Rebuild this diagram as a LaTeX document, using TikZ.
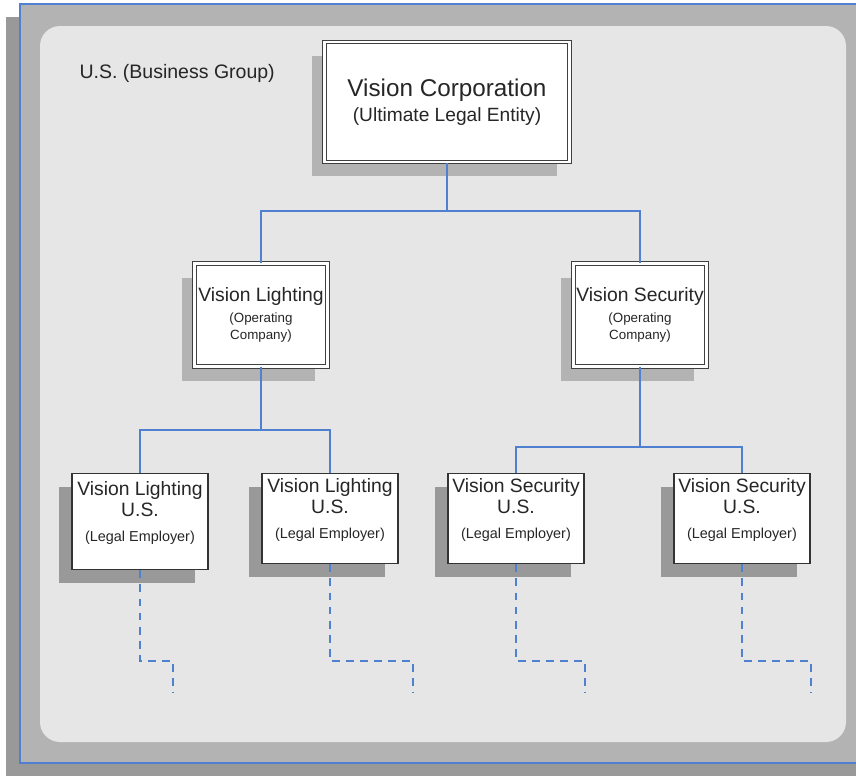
\documentclass[tikz,border=0pt]{standalone}
\usepackage{fontspec}
\setmainfont{Liberation Sans}
\usetikzlibrary{arrows.meta, positioning, calc, shadows, backgrounds}
\definecolor{linkblue}{RGB}{79,129,208}
\definecolor{framegray}{RGB}{179,179,179}
\definecolor{darkgray}{RGB}{153,153,153}
\definecolor{panelgray}{RGB}{230,230,230}
\newcommand{\corpfont}{\fontsize{13.8}{16}\selectfont}
\newcommand{\unitfont}{\fontsize{11}{12.5}\selectfont}
\newcommand{\rolefont}{\fontsize{7.6}{9.7}\selectfont}
\newcommand{\empfont}{\fontsize{8.2}{10}\selectfont}

\begin{document}
\begin{tikzpicture}[
      txt/.style={text=black!85, align=center, inner sep=1pt},
      corpbox/.style={txt, draw=black!75, double=white, double distance=1.6pt, line width=0.6pt, fill=white,
        minimum width=4.9cm, minimum height=2.4cm,
        drop shadow={shadow xshift=-0.26cm, shadow yshift=-0.28cm, fill=framegray, opacity=1}},
      opbox/.style={corpbox, font=\rolefont, minimum width=2.66cm, minimum height=2.06cm},
      empbox/.style={txt, draw=black!80, line width=0.8pt, fill=white, anchor=north,
        minimum width=2.72cm, minimum height=1.8cm, text depth=0.42cm,
        drop shadow={shadow xshift=-0.26cm, shadow yshift=-0.26cm, fill=darkgray, opacity=1}},
      link/.style={draw=linkblue, line width=0.8pt},
      more/.style={link, dash pattern=on 4.5pt off 3.5pt}
    ]
      \useasboundingbox (0,0) rectangle (17.12,-15.5);

      % Business group frame
      \fill[darkgray] (0.12,-0.34) rectangle (17.6,-15.8);
      \filldraw[fill=framegray, draw=linkblue, line width=1.1pt] (0.4,-0.08) rectangle (17.6,-15.26);
      \fill[panelgray, rounded corners=0.4cm] (0.8,-0.52) rectangle (16.92,-14.84);
      \node[txt, anchor=west, font=\fontsize{11.1}{13}\selectfont] (group) at (1.55,-1.46) {U.S. (Business Group)};

      % Legal entity and operating companies
      \node[corpbox] (corp) at (8.94,-2.04) {\corpfont Vision Corporation\\[2.5pt]\fontsize{10.9}{13}\selectfont (Ultimate Legal Entity)};
      \node[opbox] (lop) at (5.22,-6.3) {\unitfont Vision Lighting\\[2.3pt](Operating\\Company)};
      \node[opbox] (sop) at (12.8,-6.3) {\unitfont Vision Security\\[2.3pt](Operating\\Company)};

      % Legal employers
      \node[empbox, minimum height=1.92cm] (lus1) at (2.8,-9.46) {\unitfont Vision Lighting\\\unitfont U.S.\\[2pt]\empfont (Legal Employer)};
      \node[empbox] (lus2) at (6.6,-9.46) {\unitfont Vision Lighting\\\unitfont U.S.\\[2pt]\empfont (Legal Employer)};
      \node[empbox] (sus1) at (10.32,-9.46) {\unitfont Vision Security\\\unitfont U.S.\\[2pt]\empfont (Legal Employer)};
      \node[empbox] (sus2) at (14.84,-9.46) {\unitfont Vision Security\\\unitfont U.S.\\[2pt]\empfont (Legal Employer)};

      % Bus points
      \coordinate (topbus) at (8.94,-4.22);
      \coordinate (litebus) at (5.22,-8.6);
      \coordinate (secbus) at (12.8,-8.94);
      \coordinate (stepline) at (0,-13.22);

      % Tree lines
      \draw[link] (corp.south) -- (topbus);
      \draw[link] (topbus) -| (lop.north);
      \draw[link] (topbus) -| (sop.north);
      \draw[link] (lop.south) -- (litebus);
      \draw[link] (litebus) -| (lus1.north);
      \draw[link] (litebus) -| (lus2.north);
      \draw[link] (sop.south) -- (secbus);
      \draw[link] (secbus) -| (sus1.north);
      \draw[link] (secbus) -| (sus2.north);

      % More below (dashed)
      \foreach \n/\dx in {lus1/0.66, lus2/1.66, sus1/1.38, sus2/1.38}
        \draw[more] (\n.south) -- (\n.south |- stepline) -- ++(\dx,0) -- ++(0,-0.64);
    \end{tikzpicture}
\end{document}
